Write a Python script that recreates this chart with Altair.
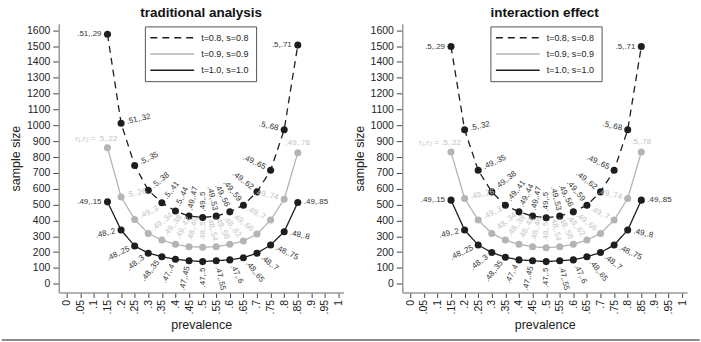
import altair as alt
import pandas as pd

FONT = "Liberation Sans"
DARK = "#1e1e1e"
GRAY = "#b4b4b4"
LAB_DARK = "#363636"
LAB_GRAY = "#c4c4c4"

# ---------------- data ----------------
prevalence = [0.15, 0.20, 0.25, 0.30, 0.35, 0.40, 0.45, 0.50,
              0.55, 0.60, 0.65, 0.70, 0.75, 0.80, 0.85]
series_names = ["t=0.8, s=0.8", "t=0.9, s=0.9", "t=1.0, s=1.0"]
panel_titles = ["traditional analysis", "interaction effect"]

# traditional analysis
trad_n_08 = [1575, 1013, 747, 590, 511, 459, 427, 419, 427, 454, 496, 580, 716, 972, 1506]
trad_n_09 = [859, 548, 406, 318, 276, 249, 234, 231, 234, 249, 270, 314, 402, 534, 827]
trad_n_10 = [517, 339, 239, 193, 171, 155, 146, 140, 146, 151, 165, 193, 245, 329, 513]
trad_lab_08 = [".51,.29", ".51,.32", ".5,.35", ".5,.38", ".5,.41", ".5,.44", ".49,.47", ".49,.5",
               ".49,.53", ".49,.56", ".49,.59", ".49,.62", ".49,.65", ".5,.68", ".5,.71"]
trad_lab_09 = ["r\u2081,r\u2082 = .5,.22", ".5,.26", ".49,.3", ".49,.34", ".49,.38", ".49,.42", ".48,.46", ".48,.5",
               ".48,.54", ".48,.58", ".48,.62", ".49,.66", ".49,.7", ".49,.74", ".49,.78"]
trad_lab_10 = [".49,.15", ".48,.2", ".48,.25", ".48,.3", ".48,.35", ".47,.4", ".47,.45", ".47,.5",
               ".47,.55", ".47,.6", ".48,.65", ".48,.7", ".48,.75", ".48,.8", ".49,.85"]

# interaction effect
int_n_08 = [1497, 972, 716, 580, 496, 454, 427, 417, 427, 454, 496, 580, 716, 972, 1497]
int_n_09 = [831, 538, 402, 318, 276, 249, 234, 228, 234, 249, 276, 318, 402, 538, 831]
int_n_10 = [528, 339, 245, 197, 168, 151, 146, 140, 146, 151, 171, 197, 245, 339, 528]
int_lab_08 = [".5,.29", ".5,.32", ".49,.35", ".49,.38", ".49,.41", ".49,.44", ".49,.47", ".49,.5",
              ".49,.53", ".49,.56", ".49,.59", ".49,.62", ".49,.65", ".5,.68", ".5,.71"]
int_lab_09 = ["r\u2081,r\u2082 = .5,.22", ".49,.26", ".49,.3", ".48,.34", ".48,.38", ".48,.42", ".48,.46", ".48,.5",
              ".48,.54", ".48,.58", ".48,.62", ".49,.66", ".49,.7", ".49,.74", ".5,.78"]
int_lab_10 = [".49,.15", ".49,.2", ".48,.25", ".48,.3", ".48,.35", ".47,.4", ".47,.45", ".47,.5",
              ".47,.55", ".47,.6", ".48,.65", ".48,.7", ".48,.75", ".49,.8", ".49,.85"]

x_ticks = [round(0.05 * i, 2) for i in range(21)]
y_ticks = list(range(0, 1601, 100))


# ---------------- label placement (style) ----------------
def placement(si, i):
    last = len(prevalence) - 1
    mid = last // 2
    if i <= mid:
        a = -90.0 * i / mid
    else:
        a = 90.0 * (last - i) / mid
    if si == 0:  # dashed: labels inside the U
        if i == 0 or i == last:
            return "A", 0.0
        return ("B" if i <= mid else "A"), a
    if si == 1:  # gray: labels inside the U
        if i == 0:
            return "C", 0.0
        if i == last:
            return "D", 0.0
        return ("B" if i <= mid else "A"), a
    # solid black: labels outside (below)
    if i == 0:
        return "A", 0.0
    if i == last:
        return "B", 0.0
    return ("A" if i <= mid else "B"), a


def make_df(vals, labs):
    rows = []
    for si, s in enumerate(series_names):
        for i, x in enumerate(prevalence):
            g, ang = placement(si, i)
            rows.append({"series": s, "prev": x, "n": vals[si][i], "label": labs[si][i],
                         "grp": g, "ang": ang, "lcol": LAB_GRAY if si == 1 else LAB_DARK})
    return pd.DataFrame(rows)


GROUPS = [("A", "right", -6, 0), ("B", "left", 6, 0), ("C", "right", 10, -9), ("D", "center", 0, -10)]
one = pd.DataFrame({"k": [0]})

W, H = 286, 270
PAD_L, PAD_T = 57.3, 22.7
GAP = 59


def panel(df, title, lx, frame=False):
    xenc = alt.X("prev:Q",
                 scale=alt.Scale(domain=[-0.0293, 1.0183], nice=False, zero=False),
                 axis=alt.Axis(values=x_ticks, title="prevalence",
                               labelExpr="datum.value == 0 ? '0' : datum.value == 1 ? '1' : replace(format(datum.value, '.2~f'), '0.', '.')",
                               labelAngle=-90, labelAlign="right", labelBaseline="middle",
                               tickSize=5, labelPadding=2, titlePadding=5,
                               labelOverlap=False, labelFlush=False))
    yenc = alt.Y("n:Q",
                 scale=alt.Scale(domain=[-54.7, 1641.6], nice=False, zero=False),
                 axis=alt.Axis(values=y_ticks, title="sample size", format="d",
                               tickSize=6, labelPadding=3, titlePadding=4,
                               labelOverlap=False, labelFlush=False))
    colenc = alt.Color("series:N", scale=alt.Scale(domain=series_names, range=[DARK, GRAY, DARK]), legend=None)
    dashenc = alt.StrokeDash("series:N", scale=alt.Scale(domain=series_names, range=[[7, 5], [1, 0], [1, 0]]), legend=None)

    base = alt.Chart(df)
    lines = base.mark_line(strokeWidth=1.3).encode(x=xenc, y=yenc, color=colenc, strokeDash=dashenc)
    pts = base.mark_circle(size=50, opacity=1).encode(x=xenc, y=yenc, color=colenc)
    layers = [lines, pts]
    for g, al, dx, dy in GROUPS:
        layers.append(
            base.transform_filter(alt.datum.grp == g)
            .mark_text(align=al, baseline="middle", dx=dx, dy=dy, fontSize=8, font=FONT)
            .encode(x=xenc, y=yenc, text="label:N",
                    angle=alt.Angle("ang:Q", scale=None),
                    fill=alt.Fill("lcol:N", scale=None))
        )
    # panel title
    layers.append(alt.Chart(one).mark_text(align="center", baseline="middle", fontSize=13.5,
                                           fontWeight="bold", font=FONT, color="#111111").encode(
        x=alt.value(W / 2), y=alt.value(-10.5), text=alt.value(title)))
    # legend box
    layers.append(alt.Chart(one).mark_rect(fill="white", stroke="#555555", strokeWidth=1).encode(
        x=alt.value(lx), x2=alt.value(lx + 111.7), y=alt.value(3.3), y2=alt.value(58.3)))
    styles = [(DARK, [7, 5]), (GRAY, [1, 0]), (DARK, [1, 0])]
    for k, (name, (c, d)) in enumerate(zip(series_names, styles)):
        ry = 14.2 + 16.3 * k
        layers.append(alt.Chart(one).mark_rule(color=c, strokeWidth=1.3, strokeDash=d).encode(
            x=alt.value(lx + 5), x2=alt.value(lx + 49), y=alt.value(ry)))
        layers.append(alt.Chart(one).mark_text(align="left", baseline="middle", fontSize=9, font=FONT,
                                               color="#222222").encode(
            x=alt.value(lx + 56), y=alt.value(ry), text=alt.value(name)))
    if frame:
        layers.append(alt.Chart(one).mark_rule(color="#8c8c8c", strokeWidth=2, clip=False).encode(
            x=alt.value(-PAD_L), x2=alt.value(701 - PAD_L), y=alt.value(340.5 - PAD_T)))
    return alt.layer(*layers).properties(width=W, height=H)


left = panel(make_df([trad_n_08, trad_n_09, trad_n_10], [trad_lab_08, trad_lab_09, trad_lab_10]),
             panel_titles[0], 87, frame=True)
right = panel(make_df([int_n_08, int_n_09, int_n_10], [int_lab_08, int_lab_09, int_lab_10]),
              panel_titles[1], 89)

chart = alt.hconcat(left, right, spacing=GAP, bounds="flush").properties(
    padding={"left": 0, "right": 0, "top": 5, "bottom": 0}
).configure_view(stroke=None).configure_axis(
    labelFont=FONT, titleFont=FONT, labelFontSize=10.5, titleFontSize=12.5,
    titleFontWeight="normal", labelColor="#222222", titleColor="#222222",
    tickColor="#444444", domainColor="#9a9a9a", domainWidth=1.5, grid=False
)

chart.save("out.html", embed_options={"renderer": "svg", "actions": False})
